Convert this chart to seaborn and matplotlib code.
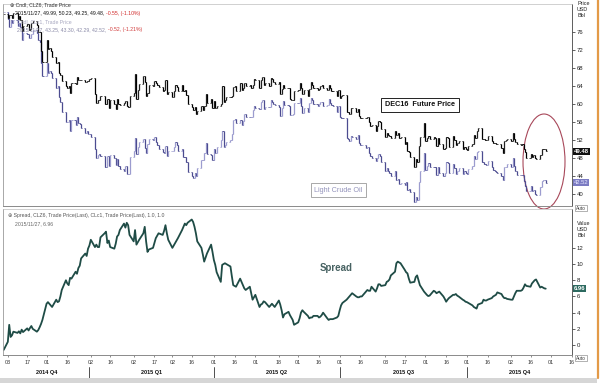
import numpy as np
import pandas as pd
import matplotlib
matplotlib.use("Agg")
import matplotlib.pyplot as plt
import matplotlib.dates as mdates
from matplotlib.patches import Ellipse, Rectangle
from matplotlib.lines import Line2D
import seaborn as sns

# ---------------- data (daily closes, weekdays from 2014-10-31) ----------------
start_date = "2014-10-31"

# Light crude front month (CLc1) closes
clc1_q4_2014 = [80.5,
    78.8, 77.2, 78.7, 77.9, 78.6, 77.4, 77.9, 77.2, 74.2, 75.8, 75.6, 74.6, 74.6, 75.6, 76.5, 75.8, 74.1, 73.7, 69.1, 66.2,
    69.0, 66.9, 67.4, 66.8, 65.8, 63.5, 64.0, 61.5, 60.5, 58.2, 55.9, 55.9, 56.5, 54.1, 56.5, 55.3, 57.1, 55.8, 55.6, 54.7, 53.6, 54.1, 53.3]
clc1_q1_2015 = [
    53.3, 52.7, 50.0, 47.9, 48.7, 48.8, 48.4, 46.1, 45.9, 48.5, 46.3, 48.7, 48.0, 46.4, 47.8, 46.3, 45.6, 45.2, 46.2, 44.5, 44.5, 48.2,
    49.6, 52.5, 48.8, 50.5, 51.5, 52.3, 50.2, 49.0, 51.0, 52.3, 52.0, 52.6, 51.5, 50.8, 50.0, 49.3, 49.1, 50.6, 48.4, 49.6,
    49.6, 50.5, 51.5, 50.8, 49.6, 50.0, 48.3, 48.2, 47.1, 44.8, 43.9, 43.5, 44.7, 44.0, 45.7, 47.5, 47.5, 49.2, 51.4, 48.9, 48.7, 47.6]
clc1_q2_2015 = [
    50.1, 49.1, 50.5, 52.1, 54.0, 50.4, 50.8, 51.6, 51.9, 53.3, 56.4, 56.7, 55.7, 56.4, 55.3, 56.2, 57.7, 57.2, 57.0, 57.1, 58.6, 59.6,
    59.2, 58.9, 60.4, 60.9, 58.9, 59.4, 59.3, 60.8, 60.5, 59.9, 59.7, 59.4, 57.3, 59.0, 60.7, 59.7, 59.5, 57.5, 57.5, 57.7, 60.3,
    60.2, 61.3, 59.6, 58.0, 59.1, 58.1, 60.1, 61.4, 60.8, 60.0, 59.5, 60.0, 60.4, 60.5, 59.6, 59.7, 61.0, 60.3, 59.7, 59.6, 58.3, 59.5]
clc1_q3_2015 = [
    57.0, 56.9, 56.8, 52.5, 52.3, 51.7, 52.8, 52.7, 52.2, 53.0, 51.4, 50.9, 50.9, 50.2, 50.4, 49.2, 48.5, 48.1, 47.4, 48.0, 48.8, 48.5, 47.1,
    45.2, 45.7, 45.2, 44.7, 43.9, 45.0, 43.1, 43.3, 42.2, 42.5, 41.9, 42.6, 40.8, 41.1, 40.5, 38.2, 39.3, 38.6, 42.6, 45.2, 49.2,
    45.4, 46.3, 46.8, 46.1, 46.0, 45.9, 44.2, 45.9, 44.6, 44.0, 44.6, 47.2, 46.9, 44.7, 46.7, 45.8, 44.5, 45.2, 45.7, 44.4, 45.0, 44.7]
clc1_q4_2015 = [
    44.5, 45.5, 46.3, 48.5, 47.8, 49.4, 49.6, 47.1, 46.7, 46.6, 46.4, 47.3, 45.9, 45.3, 45.2, 44.9, 44.6, 44.0, 43.2, 45.9, 46.1, 46.6,
    46.1, 47.9, 46.3, 45.2, 44.3, 44.2, 44.2, 42.9, 41.8, 40.7, 41.7, 40.7, 40.8, 40.0, 39.7, 41.5, 42.9, 43.0, 43.0, 42.52]

# Spread CLZ6 - CLc1
spread_q4_2014 = [-0.6,
    0.4, 2.5, 1.0, 1.2, 1.65, 1.5, 1.7, 1.44, 1.9, 1.6, 2.06, 1.8, 2.1, 2.35, 2.0, 1.65, 1.85, 2.2, 2.6, 3.1,
    5.1, 5.3, 5.1, 4.9, 4.7, 5.6, 5.3, 5.4, 6.0, 6.8, 8.0, 7.6, 7.4, 8.3, 8.2, 9.05, 8.8, 9.5, 9.8, 10.7, 11.3, 11.0, 11.9]
spread_q1_2015 = [
    12.3, 13.0, 12.1, 12.4, 12.1, 12.1, 13.3, 13.8, 14.0, 12.6, 12.9, 12.1, 11.9, 12.5, 13.4, 13.6, 14.2, 15.0, 14.5, 15.1, 14.8, 13.6,
    12.8, 14.2, 12.4, 12.7, 13.0, 13.8, 14.6, 12.8, 11.5, 11.8, 12.0, 12.6, 13.2, 13.5, 13.8, 13.6, 14.1, 14.8, 13.8, 13.0,
    12.0, 12.3, 12.6, 12.9, 13.2, 14.2, 14.6, 15.0, 14.8, 15.1, 15.5, 15.2, 14.6, 13.8, 12.8, 12.0, 11.2, 10.3, 10.8, 11.3, 12.4, 11.5]
spread_q2_2015 = [
    10.5, 9.9, 9.0, 7.8, 9.9, 10.0, 10.1, 10.0, 9.7, 8.5, 7.4, 7.3, 7.2, 8.2, 7.8, 7.4, 7.0, 6.8, 7.2, 6.4, 5.6, 5.9,
    6.2, 4.7, 5.0, 5.1, 5.4, 5.3, 4.7, 4.9, 5.1, 4.9, 4.7, 5.5, 5.0, 4.3, 3.4, 3.8, 4.1, 3.7, 3.4, 3.1, 2.5,
    2.8, 3.3, 4.0, 4.3, 4.1, 3.6, 3.3, 3.4, 3.4, 3.6, 3.6, 3.4, 3.5, 3.7, 4.0, 3.3, 3.1, 3.2, 3.2, 3.2, 3.4, 3.6]
spread_q3_2015 = [
    4.3, 4.9, 5.2, 5.6, 5.8, 6.0, 6.2, 6.4, 6.0, 5.9, 5.9, 6.0, 6.0, 6.6, 6.8, 6.7, 6.7, 7.2, 6.6, 7.0, 7.5, 7.5, 7.3,
    7.4, 7.8, 7.9, 8.1, 8.6, 9.05, 10.1, 10.3, 10.2, 10.1, 9.3, 9.0, 8.85, 8.2, 7.7, 7.8, 8.4, 8.6, 8.0, 7.4, 6.6,
    6.4, 6.2, 6.05, 6.1, 6.7, 6.6, 6.4, 6.5, 6.6, 6.0, 5.7, 5.35, 5.6, 5.8, 6.2, 6.2, 6.3, 6.1, 6.0, 5.6, 5.5, 5.35]
spread_q4_2015 = [
    5.3, 5.2, 4.9, 4.7, 4.6, 4.5, 5.0, 5.2, 5.6, 5.5, 5.5, 5.6, 5.8, 6.0, 6.1, 6.2, 6.5, 6.3, 6.0, 5.8, 5.8, 5.7,
    5.6, 5.6, 6.0, 6.4, 6.7, 6.7, 6.8, 7.1, 7.5, 7.3, 7.2, 7.6, 7.8, 8.0, 8.1, 7.1, 7.2, 7.1, 7.0, 6.96]

price_ticks = [40, 44, 48, 52, 56, 60, 64, 68, 72, 76]
spread_ticks = [0, 2, 4, 6, 8, 10, 12]
tick_dates = ["2014-11-03", "2014-11-17", "2014-12-01", "2014-12-16", "2015-01-02", "2015-01-16",
              "2015-02-02", "2015-02-17", "2015-03-02", "2015-03-16", "2015-04-01", "2015-04-16",
              "2015-05-01", "2015-05-18", "2015-06-01", "2015-06-16", "2015-07-01", "2015-07-16",
              "2015-08-03", "2015-08-17", "2015-09-01", "2015-09-16", "2015-10-01", "2015-10-16",
              "2015-11-02", "2015-11-16", "2015-12-01", "2015-12-16"]
quarter_starts = ["2014-10-01", "2015-01-01", "2015-04-01", "2015-07-01", "2015-10-01", "2016-01-01"]
quarter_labels = ["2014 Q4", "2015 Q1", "2015 Q2", "2015 Q3", "2015 Q4"]

legend_clz6 = "Cndl, CLZ6, Trade Price"
values_clz6 = "2015/11/27, 49.99, 50.23, 49.25, 49.48, "
change_clz6 = "-0.55, (-1.10%)"
legend_clc1 = "Cndl, CLc1, Trade Price"
values_clc1 = "2015/11/27, 43.25, 43.30, 42.29, 42.52, "
change_clc1 = "-0.52, (-1.21%)"
legend_spread = "Spread, CLZ6, Trade Price(Last), CLc1, Trade Price(Last), 1.0, 1.0"
values_spread = "2015/11/27, 6.96"

# ---------------- build series ----------------
clc1 = np.array(clc1_q4_2014 + clc1_q1_2015 + clc1_q2_2015 + clc1_q3_2015 + clc1_q4_2015)
spread = np.array(spread_q4_2014 + spread_q1_2015 + spread_q2_2015 + spread_q3_2015 + spread_q4_2015)
n = min(len(clc1), len(spread))
clc1, spread = clc1[:n], spread[:n]
clz6 = clc1 + spread
dates = pd.bdate_range(start_date, periods=n)
xd = mdates.date2num(dates.to_pydatetime())
df = pd.DataFrame({"x": xd, "spread": spread})

sns.set_theme(style="white")
plt.rcParams['font.family'] = ['Liberation Sans', 'DejaVu Sans']

W, H = 600, 383
fig = plt.figure(figsize=(W / 100, H / 100), dpi=100)
fig.patch.set_facecolor("white")


def fx(px):
    return px / W


def fy(py):
    return 1 - py / H


ax1 = fig.add_axes([fx(3), fy(206), fx(572) - fx(3), fy(4) - fy(206)])
ax2 = fig.add_axes([fx(3), fy(355), fx(572) - fx(3), fy(209) - fy(355)], sharex=ax1)


def draw_bars(ax, x, close, c_up, c_down, lw=0.9):
    opn = np.r_[close[0], close[:-1]]
    hi = np.maximum(opn, close)
    lo = np.minimum(opn, close)
    cols = np.where(close >= opn, c_up, c_down)
    ax.vlines(x, lo, hi, colors=cols, lw=lw)
    ax.hlines(close, x, x + 0.8, colors=cols, lw=0.6)
    ax.hlines(opn, x - 0.8, x, colors=cols, lw=0.6)


draw_bars(ax1, xd, clc1, "#9c9ccf", "#4c4c90")
draw_bars(ax1, xd, clz6, "#222222", "#000000")

sns.lineplot(data=df, x="x", y="spread", ax=ax2, color="#1f4c46", linewidth=1.3)

x0 = mdates.date2num(pd.Timestamp("2014-10-30 12:00"))
x1 = mdates.date2num(pd.Timestamp("2015-12-16"))
ax1.set_xlim(x0, x1)
ax1.set_ylim(37.33, 82.2)
ax2.set_ylim(-1.23, 16.8)

for ax in (ax1, ax2):
    ax.set_facecolor("white")
    ax.yaxis.tick_right()
    ax.tick_params(axis="y", direction="out", length=2.5, width=0.5, pad=1,
                   labelsize=4.3, colors="#222222", right=True, left=False)
    ax.spines["left"].set_color("#9a9a9a")
    ax.spines["left"].set_linewidth(0.6)
    ax.spines["right"].set_color("#444444")
    ax.spines["right"].set_linewidth(0.6)
    ax.spines["top"].set_color("#bdbdbd")
    ax.spines["top"].set_linewidth(0.5)
    ax.spines["bottom"].set_color("#8a8a8a")
    ax.spines["bottom"].set_linewidth(0.7)
    ax.set_xlabel("")
    ax.set_ylabel("")
    ax.grid(False)

ax1.set_yticks(price_ticks)
ax2.set_yticks(spread_ticks)
ax1.tick_params(axis="x", length=0, labelbottom=False)
tick_x = mdates.date2num(pd.to_datetime(tick_dates).to_pydatetime())
ax2.set_xticks(tick_x)
ax2.set_xticklabels([d[-2:] for d in tick_dates])
ax2.tick_params(axis="x", direction="out", length=1.5, width=0.4, pad=2,
                labelsize=3.9, colors="#333333", bottom=True)

# quarter labels and dividers
qx = mdates.date2num(pd.to_datetime(quarter_starts).to_pydatetime())
for i, lab in enumerate(quarter_labels):
    a, b = max(qx[i], x0), min(qx[i + 1], x1)
    ax2.text((a + b) / 2, -0.123, lab, transform=ax2.get_xaxis_transform(),
             ha="center", va="center", fontsize=4.0, fontweight="bold", color="#111111", clip_on=False)
for q in qx[1:-1]:
    ax2.add_line(Line2D([q, q], [-0.085, -0.16], transform=ax2.get_xaxis_transform(),
                        color="#333333", lw=0.6, clip_on=False))

# right-axis unit labels
fig.text(fx(577), fy(1), "Price\nUSD\nBbl", fontsize=3.9, color="#222222", va="top", ha="left", linespacing=1.3)
fig.text(fx(577), fy(221), "Value\nUSD\nBbl", fontsize=3.9, color="#222222", va="top", ha="left", linespacing=1.3)
for py in (208, 358):
    fig.text(fx(576), fy(py), "Auto", fontsize=3.4, color="#333333", va="center", ha="left",
             bbox=dict(boxstyle="square,pad=0.2", fc="white", ec="#777777", lw=0.4))

# last value boxes
box_kw = dict(xycoords=None, textcoords="offset points", xytext=(1.2, 0), ha="left", va="center",
              fontsize=4.2, fontweight="bold", color="white")
ax1.annotate(f"{clz6[-1]:.2f}", xy=(1.0, clz6[-1]), xycoords=ax1.get_yaxis_transform(),
             xytext=(1.2, 0), textcoords="offset points", ha="left", va="center", fontsize=4.2,
             fontweight="bold", color="white", annotation_clip=False,
             bbox=dict(boxstyle="square,pad=0.2", fc="#111111", ec="none"))
ax1.annotate(f"{clc1[-1]:.2f}", xy=(1.0, clc1[-1]), xycoords=ax1.get_yaxis_transform(),
             xytext=(1.2, 0), textcoords="offset points", ha="left", va="center", fontsize=4.2,
             color="#e8e8ff", annotation_clip=False,
             bbox=dict(boxstyle="square,pad=0.2", fc="#7b7bc2", ec="none"))
ax2.annotate(f"{spread[-1]:.2f}", xy=(1.0, spread[-1]), xycoords=ax2.get_yaxis_transform(),
             xytext=(1.2, 0), textcoords="offset points", ha="left", va="center", fontsize=4.2,
             fontweight="bold", color="white", annotation_clip=False,
             bbox=dict(boxstyle="square,pad=0.2", fc="#2d6a60", ec="none"))

# legend / header texts
renderer = fig.canvas.get_renderer()
fs = 3.7


def two_part(px, py, t1, c1, t2, c2):
    t = fig.text(fx(px), fy(py), t1, fontsize=fs, color=c1, va="center", ha="left")
    bb = t.get_window_extent(renderer)
    fig.text(bb.x1 / W, fy(py), t2, fontsize=fs, color=c2, va="center", ha="left")


fig.text(fx(10), fy(4.5), "\u2295 " + legend_clz6, fontsize=fs, color="#333333", va="center", ha="left")
two_part(15, 13, values_clz6, "#111111", change_clz6, "#d02828")
fig.text(fx(17), fy(21.5), legend_clc1, fontsize=fs, color="#a8a8c0", va="center", ha="left")
two_part(17, 29.5, values_clc1, "#8a8aa8", change_clc1, "#d03838")
fig.text(fx(8), fy(215), "\u2295 " + legend_spread, fontsize=fs, color="#555555", va="center", ha="left")
fig.text(fx(15), fy(223.5), values_spread, fontsize=fs, color="#666666", va="center", ha="left")

# annotations
ax1.text((420 - 3) / 569, 1 - (105 - 4) / 202, "DEC16  Future Price", transform=ax1.transAxes,
         ha="center", va="center", fontsize=5.2, fontweight="bold", color="#111111",
         bbox=dict(boxstyle="square,pad=0.5", fc="white", ec="#222222", lw=0.7))
ax1.text((338.5 - 3) / 569, 1 - (190 - 4) / 202, "Light Crude Oil", transform=ax1.transAxes,
         ha="center", va="center", fontsize=5.2, color="#9494bc",
         bbox=dict(boxstyle="square,pad=0.5", fc="white", ec="#9a9a9a", lw=0.6))
ax2.text((336 - 3) / 569, 1 - (268 - 209) / 146, "Spread", transform=ax2.transAxes,
         ha="center", va="center", fontsize=7, fontweight="bold", color="#476262")
ax1.add_patch(Ellipse(((544 - 3) / 569, 1 - (161.5 - 4) / 202), 42 / 569, 95 / 202,
                      transform=ax1.transAxes, fill=False, ec="#a8485a", lw=0.8, clip_on=False))

# window chrome: scroll bar and right border
fig.add_artist(Rectangle((0, 0), fx(597), 5 / H, transform=fig.transFigure, fc="#d6d6d6", ec="none"))
fig.add_artist(Line2D([fx(597.5), fx(597.5)], [5 / H, 1], transform=fig.transFigure, color="#e39a48", lw=1.6))

fig.savefig("out.png", dpi=100, facecolor="white")
